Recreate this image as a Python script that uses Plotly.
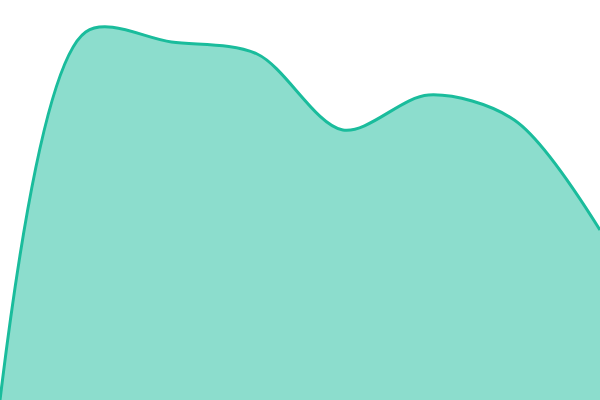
import plotly.graph_objects as go

# data (y in px-from-bottom units, 0..400)
x_vals = [0, 1, 2, 3, 4, 5, 6, 7]
y_vals = [0, 368, 358, 346, 270, 305, 280, 170]

fig = go.Figure()

fig.add_trace(go.Scatter(
    x=x_vals,
    y=y_vals,
    mode='lines',
    line=dict(color='#1abc9c', width=3, shape='spline', smoothing=0.9),
    fill='tozeroy',
    fillcolor='rgba(26,188,156,0.5)',
    hoverinfo='skip',
))

fig.update_layout(
    width=600,
    height=400,
    margin=dict(l=0, r=0, t=0, b=0),
    showlegend=False,
    plot_bgcolor='white',
    paper_bgcolor='white',
    xaxis=dict(visible=False, range=[0, 7]),
    yaxis=dict(visible=False, range=[0, 400]),
)

fig.write_html("out.html", config={'displayModeBar': False},
               post_script="document.body.style.margin='0';")
